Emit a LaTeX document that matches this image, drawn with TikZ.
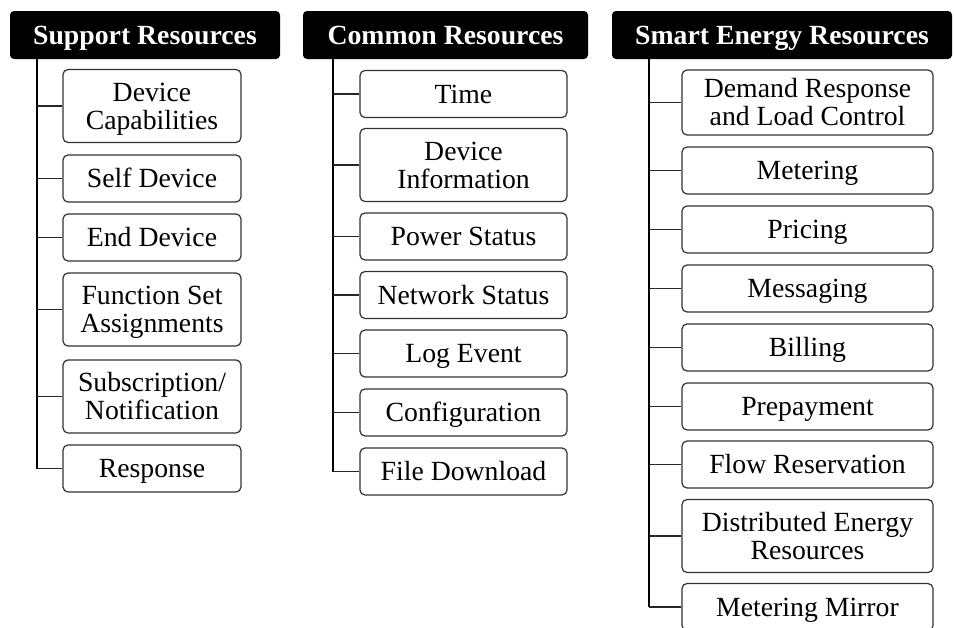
\documentclass[tikz,border=0pt]{standalone}
\usepackage{fontspec}
\setmainfont{Liberation Serif}
\begin{document}
\begin{tikzpicture}[x=0.75pt,y=-0.75pt,
  every node/.style={inner sep=0pt, align=center, text height=13.9pt, text depth=0pt,
    font=\fontsize{20.8pt}{21.3pt}\selectfont},
  header/.style={fill=black, text=white, rounded corners=3pt,
    minimum height=36pt, font=\fontsize{20.8pt}{21.3pt}\selectfont\bfseries},
  item/.style={draw=black!80, line width=0.9pt, fill=white, rounded corners=3.75pt,
    minimum height=35.25pt},
  twoline/.style={text height=35.2pt},
  tall/.style={item, twoline, minimum height=54.75pt},
  suppbox/.style={minimum width=133.5pt},
  commbox/.style={minimum width=155.25pt},
  smartbox/.style={minimum width=188.25pt},
  trunk/.style={line width=1.5pt, black},
  branch/.style={line width=1.1pt, black!85}]
\useasboundingbox (0,0) rectangle (954,628);

% column headers
\node[header, minimum width=202.5pt] (hs) at (145,35) {Support Resources};
\node[header, minimum width=213.75pt] (hc) at (445.5,35) {Common Resources};
\node[header, minimum width=255pt] (he) at (782,35) {Smart Energy Resources};

% support resources
\node[tall, suppbox] (s1) at (152,106) {Device\\Capabilities};
\node[item, suppbox] (s2) at (152,178.5) {Self Device};
\node[item, suppbox] (s3) at (152,237.5) {End Device};
\node[tall, suppbox] (s4) at (152,309.5) {Function Set\\Assignments};
\node[tall, suppbox] (s5) at (152,396.5) {Subscription/\\Notification};
\node[item, suppbox] (s6) at (152,468.5) {Response};

% common resources
\node[item, commbox] (c1) at (463.5,94) {Time};
\node[tall, commbox] (c2) at (463.5,165) {Device\\Information};
\node[item, commbox] (c3) at (463.5,236.5) {Power Status};
\node[item, commbox] (c4) at (463.5,295) {Network Status};
\node[item, commbox] (c5) at (463.5,353.5) {Log Event};
\node[item, commbox] (c6) at (463.5,412.5) {Configuration};
\node[item, commbox] (c7) at (463.5,471.5) {File Download};

% smart energy resources
\node[item, twoline, smartbox, minimum height=48.75pt] (e1) at (807.5,102.5) {Demand Response\\and Load Control};
\node[item, smartbox] (e2) at (807.5,170.5) {Metering};
\node[item, smartbox] (e3) at (807.5,229.5) {Pricing};
\node[item, smartbox] (e4) at (807.5,288.5) {Messaging};
\node[item, smartbox] (e5) at (807.5,347.5) {Billing};
\node[item, smartbox] (e6) at (807.5,406.5) {Prepayment};
\node[item, smartbox] (e7) at (807.5,464.5) {Flow Reservation};
\node[tall, smartbox] (e8) at (807.5,536) {Distributed Energy\\Resources};
\node[item, smartbox] (e9) at (807.5,607) {Metering Mirror};

% trunk origins below each header
\coordinate (ts) at (37,59);
\coordinate (tc) at (333,59);
\coordinate (te) at (649,59);

\draw[trunk] (ts) -- (ts |- s6.west);
\foreach \b in {s1,s2,s3,s4,s5,s6}
  \draw[branch] (ts |- \b.west) -- (\b.west);

\draw[trunk] (tc) -- (tc |- c7.west);
\foreach \b in {c1,c2,c3,c4,c5,c6,c7}
  \draw[branch] (tc |- \b.west) -- (\b.west);

\draw[trunk] (te) -- (te |- e9.west);
\foreach \b in {e1,e2,e3,e4,e5,e6,e7,e8,e9}
  \draw[branch] (te |- \b.west) -- (\b.west);
\end{tikzpicture}
\end{document}
